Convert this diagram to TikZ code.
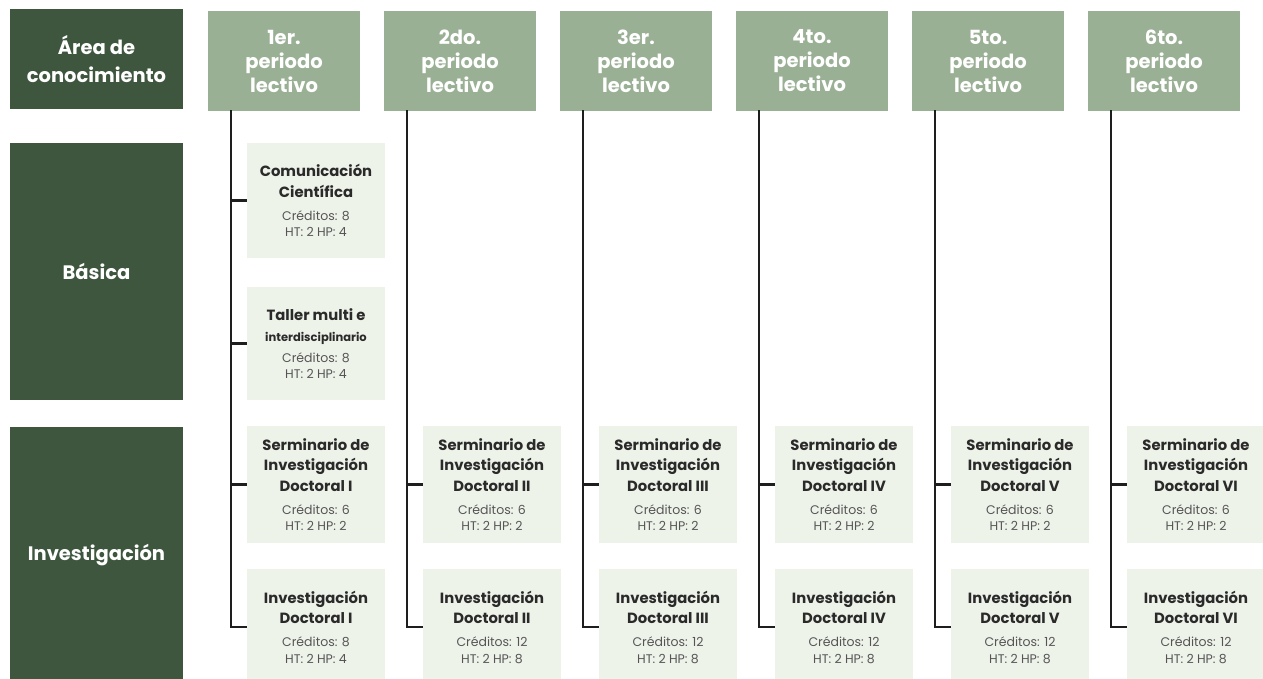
\documentclass[tikz,border=0pt]{standalone}
\usepackage{fontspec}
\setmainfont{Poppins}
\definecolor{dkgreen}{HTML}{3E563E}
\definecolor{hdgreen}{HTML}{9AB095}
\definecolor{ltgreen}{HTML}{EEF3EA}
\definecolor{txtdark}{HTML}{2A2A2A}
\definecolor{txtgrey}{HTML}{555555}
\definecolor{linecol}{HTML}{1E1E1E}
\newcommand{\crd}{\normalfont\fontsize{12.5}{20}\selectfont\color{txtgrey}}
\newcommand{\smt}{\fontsize{11.5}{20}\selectfont}
\tikzset{
  darkbox/.style={fill=dkgreen, text=white, inner sep=0pt, align=center,
    minimum width=173pt, font=\bfseries\fontsize{19.5}{28}\selectfont},
  hdrbox/.style={fill=hdgreen, text=white, inner sep=0pt, align=center,
    minimum width=152pt, minimum height=100pt, font=\bfseries\fontsize{19.5}{24}\selectfont},
  course/.style={fill=ltgreen, text=txtdark, inner sep=0pt, align=center,
    minimum width=138pt, font=\bfseries\fontsize{14.8}{20.5}\selectfont},
  conn/.style={draw=linecol, line width=2.6pt},
}
\begin{document}
\begin{tikzpicture}[x=1pt,y=-1pt]
\useasboundingbox (0,0) rectangle (1263,679);
\fill[white] (0,0) rectangle (1263,679);
% left column
\node[darkbox, minimum height=100pt] (area) at (96.5,59.5) {Área de\\conocimiento};
\node[darkbox, minimum height=257pt] (bas) at (96.5,271.5) {Básica};
\node[darkbox, minimum height=256pt] (inv) at (96.5,555) {Investigación};
% headers
\foreach \i/\t in {0/1er.,1/2do.,2/3er.,3/4to.,4/5to.,5/6to.}{
  \node[hdrbox] (h\i) at ({284+176*\i},61) {\t\\periodo\\lectivo};
  \coordinate (t\i) at ({231+176*\i},110.5);
}
% basic courses (column 1)
\node[course, minimum height=115pt] (com) at (316,200.5)
  {Comunicación\\Científica\\[2.5pt]{\crd Créditos: 8}\\[-4pt]{\crd HT: 2 HP: 4}};
\node[course, minimum height=113pt] (tal) at (316,343.5)
  {Taller multi e\\[1pt]{\smt interdisciplinario}\\[0pt]{\crd Créditos: 8}\\[-4pt]{\crd HT: 2 HP: 4}};
% seminars and research
\foreach \i/\r/\c/\hp in {0/I/8/4,1/II/12/8,2/III/12/8,3/IV/12/8,4/V/12/8,5/VI/12/8}{
  \node[course, minimum height=117pt] (sem\i) at ({316+176*\i},484.5)
    {Serminario de\\Investigación\\Doctoral \r\\[2.5pt]{\crd Créditos: 6}\\[-4pt]{\crd HT: 2 HP: 2}};
  \node[course, minimum height=116pt] (doc\i) at ({316+176*\i},627)
    {Investigación\\Doctoral \r\\[2.5pt]{\crd Créditos: \c}\\[-4pt]{\crd HT: 2 HP: \hp}};
  \draw[conn] (t\i) |- (doc\i.west);
  \draw[conn] (t\i |- sem\i.west) -- (sem\i.west);
}
\draw[conn] (t0 |- com.west) -- (com.west);
\draw[conn] (t0 |- tal.west) -- (tal.west);
\end{tikzpicture}
\end{document}
